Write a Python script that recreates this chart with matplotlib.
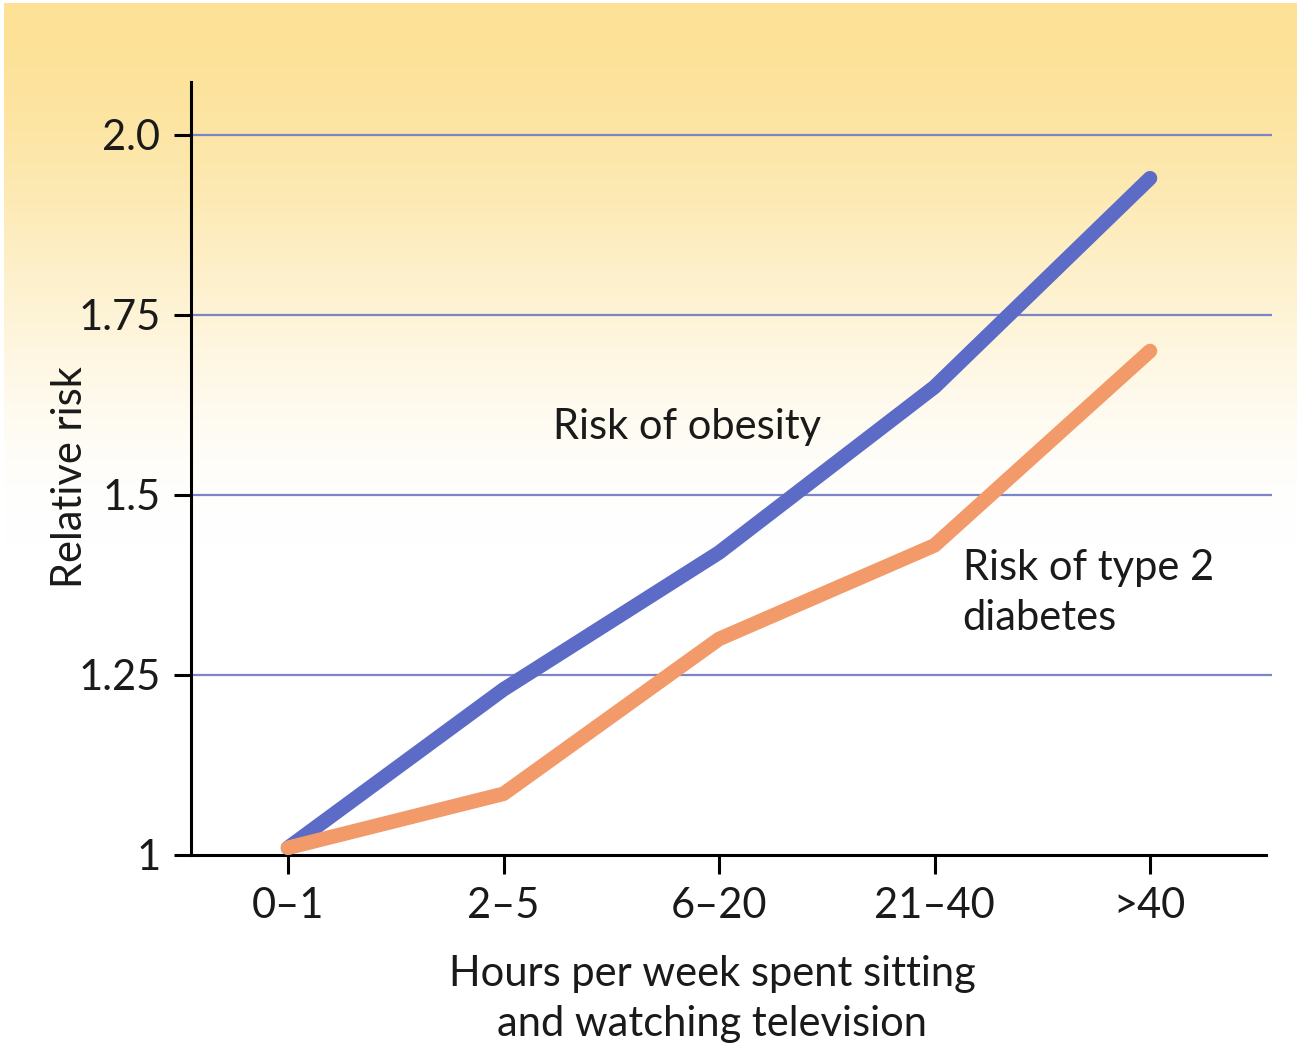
import matplotlib
matplotlib.use("Agg")
import matplotlib.pyplot as plt
import numpy as np

# Data
categories = ["0\u20131", "2\u20135", "6\u201320", "21\u201340", ">40"]
obesity_risk = [1.01, 1.23, 1.42, 1.65, 1.94]
diabetes_risk = [1.01, 1.085, 1.30, 1.43, 1.70]
y_ticks = [1.0, 1.25, 1.5, 1.75, 2.0]
y_tick_labels = ["1", "1.25", "1.5", "1.75", "2.0"]

plt.rcParams["font.family"] = ["Lato", "DejaVu Sans"]
TEXT_COLOR = "#1a1a1a"
FS = 30

fig = plt.figure(figsize=(12.97, 10.44), dpi=100)

# Warm gradient backdrop fading to white
bg = fig.add_axes([4 / 1297, 0, 1 - 4 / 1297, 1 - 3 / 1044], zorder=0)
h = 1041
t = np.linspace(0, 1, h)
fade = np.clip(t / 0.52, 0, 1)
fade = fade * fade * (3 - 2 * fade)
top = np.array([252, 225, 150]) / 255
img = top[None, :] * (1 - fade[:, None]) + np.ones(3)[None, :] * fade[:, None]
bg.imshow(img[:, None, :].repeat(2, axis=1), aspect="auto", extent=[0, 1, 0, 1])
bg.axis("off")

ax = fig.add_axes([191 / 1297, (1044 - 855) / 1044, (1272 - 191) / 1297, (855 - 82) / 1044], zorder=1)
ax.patch.set_alpha(0)

x = np.arange(len(categories))
step = 215.5
ax.set_xlim(-97 / step, 4 + 122 / step)
ax.set_ylim(1.0, 2.0 + (135 - 82) / 720)

for yv in y_ticks[1:]:
    ax.axhline(yv, color="#7d84c8", lw=1.6, zorder=1)

ax.plot(x, obesity_risk, color="#5b6bc6", lw=10.5, solid_capstyle="round",
        solid_joinstyle="round", zorder=3)
ax.plot(x, diabetes_risk, color="#f39a6a", lw=10.5, solid_capstyle="round",
        solid_joinstyle="round", zorder=4)

for s in ("top", "right"):
    ax.spines[s].set_visible(False)
ax.spines["left"].set_linewidth(2.2)
ax.spines["bottom"].set_linewidth(2.2)
ax.spines["bottom"].set_bounds(-97 / step, 4 + 116 / step)

ax.set_xticks(x)
ax.set_xticklabels(categories)
ax.set_yticks(y_ticks)
ax.set_yticklabels(y_tick_labels)
ax.tick_params(axis="x", length=14, width=2.2, pad=9, labelsize=FS, labelcolor=TEXT_COLOR)
ax.tick_params(axis="y", length=12, width=2.2, pad=10, labelsize=FS, labelcolor=TEXT_COLOR)

fig.text(70 / 1297, 1 - 477 / 1044, "Relative risk", rotation=90, ha="center", va="center",
         fontsize=FS, color=TEXT_COLOR)
fig.text(712 / 1297, 1 - 999 / 1044, "Hours per week spent sitting\nand watching television",
         ha="center", va="center", fontsize=FS, color=TEXT_COLOR, linespacing=1.36)

ax.text(1.85, 1.595, "Risk of obesity", ha="center", va="center", fontsize=FS,
        color=TEXT_COLOR)
ax.text(3.13, 1.364, "Risk of type 2\ndiabetes", ha="left", va="center", fontsize=FS,
        color=TEXT_COLOR, linespacing=1.4)

fig.savefig("out.png", dpi=100)
